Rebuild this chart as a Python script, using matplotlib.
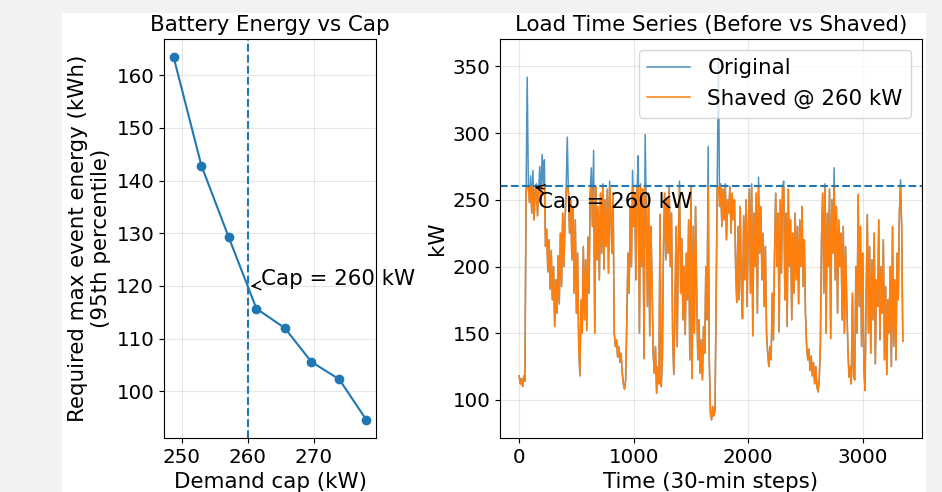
import numpy as np
import matplotlib
matplotlib.use("Agg")
import matplotlib.pyplot as plt
from matplotlib.patches import Rectangle

# battery energy vs demand cap
caps = [248.8, 253.0, 257.1, 261.3, 265.6, 269.6, 273.8, 277.9]
energy = [163.4, 142.8, 129.3, 115.7, 112.0, 105.6, 102.3, 94.6]
cap_sel = 260

# load series, one value read every 10 steps (30-min steps)
step = 10
load = [
    118, 112, 116, 110, 118, 114, 255, 342, 262, 248, 268, 240, 272, 235, 258, 262, 238, 256, 275, 250,
    284, 262, 280, 215, 228, 196, 220, 183, 212, 175, 200, 155, 190, 165, 208, 172, 225, 185, 240, 200,
    232, 258, 297, 255, 225, 250, 205, 245, 180, 235, 165, 210, 140, 118, 175, 150, 215, 160, 205, 152,
    222, 180, 255, 274, 230, 287, 150, 260, 205, 245, 190, 255, 210, 262, 198, 250, 215, 258, 195, 264,
    240, 210, 255, 150, 140, 145, 132, 140, 128, 135, 120, 112, 108, 115, 160, 210, 180, 245, 200, 272,
    230, 255, 190, 260, 283, 150, 262, 200, 258, 131, 299, 240, 170, 255, 148, 230, 190, 135, 120, 140,
    105, 125, 112, 239, 110, 130, 215, 255, 205, 250, 210, 260, 200, 240, 150, 119, 170, 230, 140, 220,
    264, 180, 221, 160, 200, 149, 210, 175, 235, 130, 260, 116, 230, 150, 245, 180, 130, 160, 120, 145,
    115, 155, 135, 200, 160, 290, 130, 90, 85, 95, 88, 92, 180, 262, 357, 245, 262, 230, 258, 235,
    262, 220, 250, 240, 260, 225, 255, 235, 250, 200, 173, 230, 175, 245, 185, 161, 238, 190, 250, 170,
    230, 258, 180, 262, 148, 240, 200, 255, 165, 267, 210, 245, 190, 225, 170, 215, 150, 135, 125, 140,
    130, 180, 145, 210, 255, 200, 240, 151, 250, 195, 260, 264, 175, 240, 155, 258, 200, 235, 160, 225,
    180, 240, 190, 230, 172, 235, 200, 245, 185, 220, 165, 140, 130, 138, 122, 133, 118, 128, 112, 125,
    110, 106, 115, 140, 220, 255, 180, 262, 150, 240, 200, 258, 146, 250, 210, 274, 190, 245, 165, 235,
    200, 225, 160, 230, 150, 215, 175, 140, 117, 125, 112, 180, 118, 115, 200, 150, 254, 170, 230, 140,
    210, 125, 107, 180, 239, 150, 215, 135, 205, 160, 225, 127, 190, 170, 235, 145, 200, 165, 220, 130,
    185, 119, 175, 150, 200, 125, 230, 140, 190, 130, 210, 175, 240, 265, 230, 144,
]

load = np.array(load, dtype=float)
t = np.arange(len(load)) * step
shaved = np.minimum(load, cap_sel)

plt.rcParams['font.family'] = ['DejaVu Sans']
fs = 15.4
fs_tick = 14.3

fig = plt.figure(figsize=(9.42, 4.92), dpi=100, facecolor='#f2f2f2')
fig.patches.append(Rectangle((62 / 942, 0), 864 / 942, 479 / 492, transform=fig.transFigure,
                             facecolor='white', edgecolor='none', zorder=-10))

ax1 = fig.add_axes([164 / 942, 1 - 438 / 492, 212 / 942, 399 / 492])
ax2 = fig.add_axes([500 / 942, 1 - 438 / 492, 422 / 942, 399 / 492])

# left: energy vs cap
ax1.plot(caps, energy, marker='o', markersize=6, color='C0')
ax1.axvline(cap_sel, linestyle='--', color='C0')
e_at_cap = np.interp(cap_sel, caps, energy)
ax1.annotate(f"Cap = {cap_sel} kW", xy=(cap_sel, e_at_cap), xytext=(262, 120.1),
             arrowprops=dict(arrowstyle='->', color='black'), fontsize=fs)
ax1.set_title("Battery Energy vs Cap", fontsize=fs)
ax1.set_xlabel("Demand cap (kW)", fontsize=fs)
ax1.set_ylabel("Required max event energy (kWh)\n(95th percentile)", fontsize=fs)
ax1.tick_params(labelsize=fs_tick)
ax1.grid(True, alpha=0.3)

# right: time series
ax2.plot(t, load, color='C0', alpha=0.8, linewidth=1.1, label='Original')
ax2.plot(t, shaved, color='C1', linewidth=1.1, label=f'Shaved @ {cap_sel} kW')
ax2.axhline(cap_sel, linestyle='--', color='C0')
ax2.annotate(f"Cap = {cap_sel} kW", xy=(110, cap_sel), xytext=(166, 243.8),
             arrowprops=dict(arrowstyle='->', color='black'), fontsize=fs)
ax2.set_title("Load Time Series (Before vs Shaved)", fontsize=fs)
ax2.set_xlabel("Time (30-min steps)", fontsize=fs)
ax2.set_ylabel("kW", fontsize=fs)
ax2.tick_params(labelsize=fs_tick)
ax2.grid(True, alpha=0.3)
ax2.legend(loc='upper right', fontsize=fs)

fig.savefig("out.png", dpi=100, facecolor=fig.get_facecolor())
